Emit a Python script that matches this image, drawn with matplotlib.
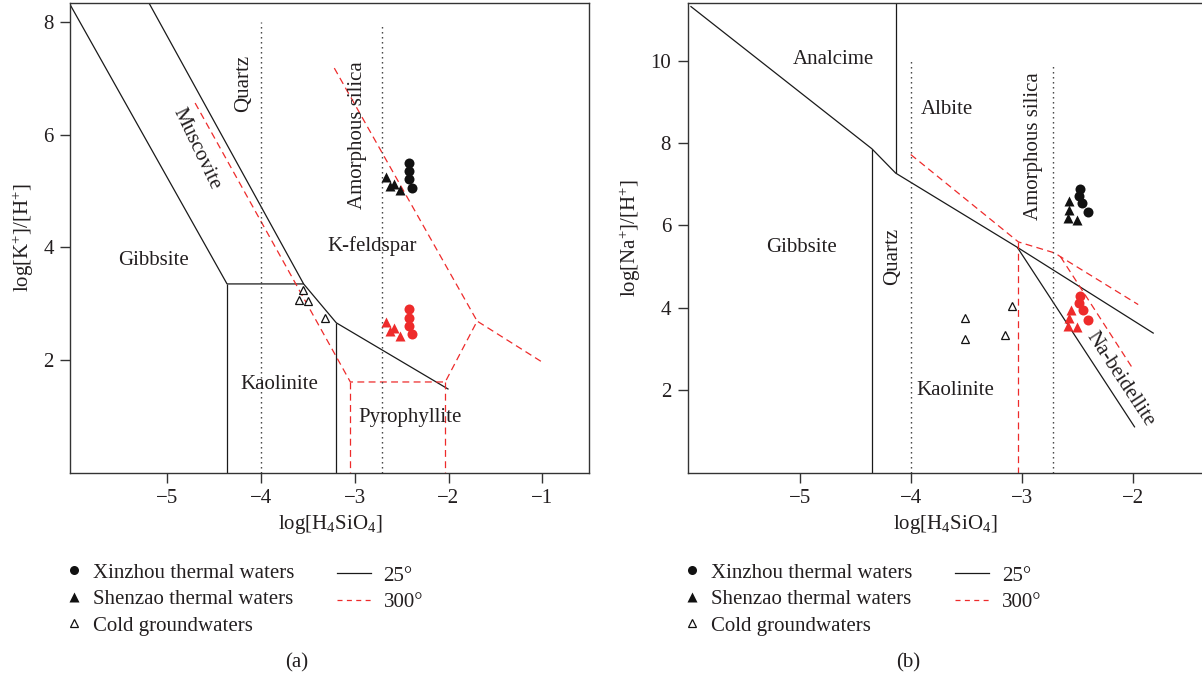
import matplotlib.pyplot as plt
from matplotlib.lines import Line2D

plt.rcParams['font.family'] = 'Liberation Serif'
plt.rcParams['mathtext.fontset'] = 'custom'
plt.rcParams['mathtext.rm'] = 'Liberation Serif'
plt.rcParams['mathtext.it'] = 'Liberation Serif:italic'

TEXT = '#231f20'
RED = '#ee2b2b'
FS = 15

# ---------- (a) K2O-Al2O3-SiO2-H2O ----------
# stability boundaries at 25 deg (x = log[H4SiO4], y = log[K+]/[H+])
k_25_x = [[-6.04, -4.36, -3.544], [-4.36, -4.36],
          [-5.19, -3.544, -3.196, -2.0], [-3.196, -3.196]]
k_25_y = [[8.33, 3.35, 3.35], [3.35, 0.0],
          [8.33, 3.35, 2.66, 1.48], [2.66, 0.0]]
# boundaries at 300 deg
k_300_x = [[-4.70, -3.046, -2.035, -1.695, -0.99], [-3.046, -3.046],
           [-2.035, -2.035], [-3.217, -1.695]]
k_300_y = [[6.56, 1.61, 1.61, 2.69, 1.95], [1.61, 0.0],
           [1.61, 0.0], [7.18, 2.69]]

# samples
xz_k25_x = [-2.42, -2.42, -2.42, -2.39]
xz_k25_y = [5.49, 5.36, 5.22, 5.06]
sz_k25_x = [-2.665, -2.62, -2.58, -2.52]
sz_k25_y = [5.24, 5.09, 5.13, 5.01]
xz_k300_x = [-2.42, -2.42, -2.42, -2.39]
xz_k300_y = [2.90, 2.75, 2.61, 2.46]
sz_k300_x = [-2.665, -2.62, -2.58, -2.52]
sz_k300_y = [2.67, 2.52, 2.56, 2.43]
cold_k_x = [-3.55, -3.59, -3.50, -3.32]
cold_k_y = [3.25, 3.07, 3.04, 2.74]

# ---------- (b) Na2O-Al2O3-SiO2-H2O ----------
na_25_x = [[-5.985, -4.35, -4.136, -3.04, -1.81], [-4.35, -4.35],
           [-4.136, -4.136], [-3.04, -1.98]]
na_25_y = [[11.32, 7.86, 7.27, 5.47, 3.38], [7.86, 0.0],
           [11.39, 7.27], [5.47, 1.10]]
na_300_x = [[-4.0, -3.03, -2.70, -2.65, -1.95], [-2.65, -1.995],
            [-3.03, -3.03]]
na_300_y = [[7.72, 5.60, 5.33, 5.24, 4.08], [5.24, 2.51],
            [5.60, 0.0]]

xz_na25_x = [-2.477, -2.487, -2.46, -2.40]
xz_na25_y = [6.88, 6.72, 6.55, 6.33]
sz_na25_x = [-2.573, -2.573, -2.587, -2.50]
sz_na25_y = [6.59, 6.38, 6.18, 6.14]
xz_na300_x = [-2.47, -2.48, -2.45, -2.40]
xz_na300_y = [4.28, 4.11, 3.94, 3.70]
sz_na300_x = [-2.56, -2.57, -2.58, -2.50]
sz_na300_y = [3.94, 3.76, 3.56, 3.53]
cold_na_x = [-3.507, -3.507, -3.154, -3.088]
cold_na_y = [3.745, 3.25, 3.33, 4.04]

# quartz and amorphous silica saturation
k_quartz, k_amorph = -4.0, -2.71
na_quartz, na_amorph = -4.0, -2.72


def draw_panel(ax, lines25, lines300, silica, samples, cold):
    for xs, ys in zip(*lines25):
        ax.plot(xs, ys, color='#1a1a1a', lw=0.9, solid_capstyle='butt')
    for xs, ys in zip(*lines300):
        ax.plot(xs, ys, color=RED, lw=0.9, dashes=(5.5, 3.5))
    for x0, ytop in silica:
        ax.plot([x0, x0], [0, ytop], color='#333333', lw=1.0,
                linestyle=(0, (1, 2.6)))
    for (cx, cy, tx, ty), col in zip(samples, ['#111111', RED]):
        ax.plot(cx, cy, 'o', color=col, ms=7.2, mec='none', zorder=5)
        ax.plot(tx, ty, '^', color=col, ms=7.2, mec='none', zorder=5)
    ax.plot(cold[0], cold[1], '^', mfc='white', mec='#111111', mew=0.9,
            ms=6, ls='none', zorder=5)
    ax.tick_params(direction='out', length=7, width=1, labelsize=FS,
                   colors='#333333', labelcolor=TEXT, pad=5,
                   top=False, right=False)
    for sp in ax.spines.values():
        sp.set_color('#333333')
        sp.set_linewidth(1.0)
    ax.set_xlabel(r'log[H$_4$SiO$_4$]', fontsize=FS, color=TEXT, labelpad=3)


fig = plt.figure(figsize=(12.02, 6.8), dpi=100)
W, H = 1202, 680
ax1 = fig.add_axes([70.3 / W, (H - 472.7) / H, 519 / W, 469.4 / H])
ax2 = fig.add_axes([687.7 / W, (H - 472.7) / H, (1203 - 687.7) / W, 469.4 / H])

draw_panel(ax1, (k_25_x, k_25_y), (k_300_x, k_300_y),
           [(k_quartz, 8.0), (k_amorph, 7.95)],
           [(xz_k25_x, xz_k25_y, sz_k25_x, sz_k25_y),
            (xz_k300_x, xz_k300_y, sz_k300_x, sz_k300_y)],
           (cold_k_x, cold_k_y))
ax1.set_xlim(-6.03, -0.5)
ax1.set_ylim(0, 8.33)
ax1.set_xticks([-5, -4, -3, -2, -1])
ax1.set_yticks([2, 4, 6, 8])
ax1.set_ylabel(r'log[K$^{+}$]/[H$^{+}$]', fontsize=FS, color=TEXT, labelpad=5)

lab = dict(fontsize=FS, color=TEXT, ha='center', va='center')
ax1.text(-5.14, 3.76, 'Gibbsite', **lab)
ax1.text(-2.81, 4.03, 'K-feldspar', **lab)
ax1.text(-3.80, 1.57, 'Kaolinite', **lab)
ax1.text(-2.41, 0.98, 'Pyrophyllite', **lab)
ax1.text(-4.18, 6.91, 'Quartz', rotation=90, **lab)
ax1.text(-2.975, 5.99, 'Amorphous silica', rotation=90, **lab)
ax1.text(-4.69, 5.74, 'Muscovite', rotation=-64.5, **lab)

draw_panel(ax2, (na_25_x, na_25_y), (na_300_x, na_300_y),
           [(na_quartz, 9.98), (na_amorph, 9.87)],
           [(xz_na25_x, xz_na25_y, sz_na25_x, sz_na25_y),
            (xz_na300_x, xz_na300_y, sz_na300_x, sz_na300_y)],
           (cold_na_x, cold_na_y))
ax2.set_xlim(-6.01, -1.366)
ax2.set_ylim(0, 11.39)
ax2.set_xticks([-5, -4, -3, -2])
ax2.set_yticks([2, 4, 6, 8, 10])
ax2.set_ylabel(r'log[Na$^{+}$]/[H$^{+}$]', fontsize=FS, color=TEXT, labelpad=5)

ax2.text(-4.70, 10.02, 'Analcime', **lab)
ax2.text(-3.676, 8.82, 'Albite', **lab)
ax2.text(-4.98, 5.46, 'Gibbsite', **lab)
ax2.text(-3.60, 1.99, 'Kaolinite', **lab)
ax2.text(-4.163, 5.25, 'Quartz', rotation=90, **lab)
ax2.text(-2.89, 7.92, 'Amorphous silica', rotation=90, **lab)
ax2.text(-2.114, 2.27, 'Na-beidellite', rotation=-56.7, **lab)

# legends under each panel
sample_handles = [
    Line2D([], [], marker='o', color='#111111', ls='none', ms=6.5, mec='none'),
    Line2D([], [], marker='^', color='#111111', ls='none', ms=6.5, mec='none'),
    Line2D([], [], marker='^', mfc='white', mec='#111111', mew=0.9, ls='none', ms=5.5),
]
sample_labels = ['Xinzhou thermal waters', 'Shenzao thermal waters', 'Cold groundwaters']
temp_handles = [
    Line2D([], [], color='#1a1a1a', lw=0.9),
    Line2D([], [], color=RED, lw=0.9, dashes=(4, 3.5)),
]
temp_labels = ['25°', '300°']

for mx, lx in [(64.3, 336.7), (681.7, 955.0)]:
    fig.legend(sample_handles, sample_labels, loc='upper left',
               bbox_to_anchor=(mx / W, (H - 563) / H), frameon=False,
               fontsize=FS, handlelength=0.95, handletextpad=0.45,
               labelspacing=0.33, borderpad=0, borderaxespad=0,
               labelcolor=TEXT)
    fig.legend(temp_handles, temp_labels, loc='upper left',
               bbox_to_anchor=(lx / W, (H - 566) / H), frameon=False,
               fontsize=FS, handlelength=1.65, handletextpad=0.6,
               labelspacing=0.33, borderpad=0, borderaxespad=0,
               labelcolor=TEXT)

fig.text(296.7 / W, (H - 663) / H, '(a)', fontsize=FS, color=TEXT,
         ha='center', va='center')
fig.text(908.3 / W, (H - 663) / H, '(b)', fontsize=FS, color=TEXT,
         ha='center', va='center')

fig.savefig('out.png', dpi=100)
